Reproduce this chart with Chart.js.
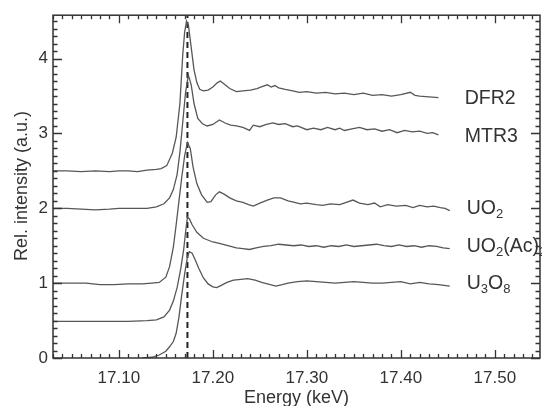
<!DOCTYPE html>
<html><head><meta charset="utf-8">
<script src="https://cdn.jsdelivr.net/npm/chart.js@4"></script>
<style>html,body{margin:0;padding:0;background:#fff}#wrap{width:542px;height:406px;position:relative}</style>
</head><body><div id="wrap"><canvas id="c" width="542" height="406"></canvas></div>
<script>
// ---- data ----
const xTicks = [17.10, 17.20, 17.30, 17.40, 17.50];
const yTicks = [0, 1, 2, 3, 4];
const xTitle = 'Energy (keV)';
const yTitle = 'Rel. intensity (a.u.)';
const edgeEnergy = 17.173;

const dfr2E = [17.030,17.045,17.060,17.075,17.090,17.100,17.110,17.120,17.130,17.140,17.145,17.151,17.157,17.161,17.165,17.168,17.170,17.172,17.174,17.177,17.180,17.183,17.186,17.190,17.195,17.200,17.205,17.208,17.212,17.218,17.225,17.232,17.240,17.247,17.253,17.258,17.262,17.266,17.270,17.277,17.285,17.292,17.300,17.310,17.320,17.330,17.340,17.350,17.360,17.370,17.380,17.390,17.400,17.410,17.415,17.420,17.430,17.440];
const dfr2I = [2.50,2.50,2.49,2.50,2.49,2.50,2.50,2.49,2.51,2.52,2.53,2.57,2.74,2.95,3.40,4.05,4.35,4.50,4.45,4.15,3.85,3.68,3.59,3.57,3.58,3.62,3.68,3.70,3.66,3.60,3.56,3.57,3.58,3.60,3.63,3.65,3.62,3.64,3.61,3.59,3.57,3.55,3.56,3.54,3.55,3.53,3.54,3.52,3.54,3.51,3.52,3.50,3.52,3.55,3.51,3.50,3.49,3.48];

const mtr3E = [17.030,17.045,17.060,17.075,17.090,17.100,17.115,17.130,17.140,17.148,17.154,17.158,17.162,17.165,17.168,17.171,17.174,17.177,17.180,17.184,17.189,17.194,17.200,17.207,17.213,17.219,17.225,17.232,17.239,17.243,17.250,17.257,17.264,17.270,17.277,17.285,17.290,17.300,17.307,17.315,17.322,17.330,17.335,17.340,17.348,17.356,17.364,17.372,17.380,17.388,17.396,17.404,17.412,17.420,17.428,17.434,17.440];
const mtr3I = [2.00,2.00,1.99,1.98,1.99,2.00,2.00,2.00,2.02,2.06,2.14,2.25,2.45,2.75,3.15,3.55,3.78,3.65,3.40,3.20,3.13,3.10,3.12,3.18,3.14,3.11,3.10,3.08,3.04,3.11,3.09,3.12,3.14,3.12,3.13,3.09,3.10,3.05,3.07,3.05,3.08,3.05,3.07,3.04,3.06,3.08,3.05,3.06,3.03,3.05,3.01,3.04,3.02,3.03,3.00,3.01,2.98];

const uo2E = [17.030,17.050,17.065,17.080,17.095,17.110,17.125,17.135,17.143,17.150,17.154,17.158,17.161,17.164,17.167,17.170,17.173,17.176,17.179,17.183,17.188,17.194,17.198,17.203,17.207,17.212,17.218,17.225,17.232,17.238,17.243,17.250,17.258,17.265,17.272,17.280,17.287,17.293,17.300,17.310,17.317,17.325,17.335,17.342,17.349,17.356,17.365,17.372,17.378,17.386,17.395,17.405,17.413,17.420,17.428,17.435,17.442,17.447,17.452];
const uo2I = [1.00,1.00,1.00,0.98,0.98,0.99,0.99,1.00,1.01,1.08,1.22,1.48,1.78,2.10,2.42,2.70,2.88,2.80,2.55,2.33,2.18,2.08,2.09,2.18,2.22,2.19,2.14,2.10,2.08,2.05,2.03,2.07,2.11,2.14,2.14,2.10,2.08,2.06,2.07,2.05,2.04,2.06,2.05,2.08,2.11,2.07,2.05,2.07,2.02,2.05,2.03,2.04,2.01,2.04,2.02,2.03,2.01,2.00,1.97];

const uo2acE = [17.030,17.060,17.090,17.110,17.130,17.140,17.148,17.154,17.158,17.162,17.166,17.169,17.171,17.173,17.175,17.178,17.183,17.190,17.196,17.200,17.207,17.213,17.219,17.225,17.232,17.239,17.246,17.254,17.262,17.270,17.278,17.286,17.294,17.302,17.310,17.318,17.326,17.334,17.342,17.350,17.358,17.366,17.374,17.382,17.390,17.398,17.406,17.414,17.422,17.430,17.438,17.445,17.452];
const uo2acI = [0.49,0.49,0.49,0.49,0.50,0.51,0.55,0.64,0.76,0.94,1.20,1.45,1.68,1.88,1.86,1.78,1.68,1.60,1.57,1.55,1.53,1.51,1.49,1.47,1.46,1.45,1.47,1.49,1.50,1.52,1.51,1.50,1.51,1.49,1.50,1.48,1.50,1.49,1.51,1.49,1.50,1.51,1.52,1.50,1.49,1.51,1.49,1.50,1.48,1.50,1.49,1.47,1.46];

const u3o8E = [17.125,17.135,17.143,17.150,17.154,17.158,17.161,17.164,17.167,17.170,17.173,17.175,17.178,17.181,17.185,17.190,17.195,17.200,17.204,17.209,17.215,17.222,17.230,17.237,17.245,17.252,17.258,17.267,17.274,17.280,17.290,17.300,17.310,17.320,17.330,17.340,17.350,17.360,17.370,17.380,17.390,17.400,17.410,17.420,17.430,17.440,17.452];
const u3o8I = [0.00,0.01,0.04,0.09,0.15,0.22,0.33,0.55,0.85,1.12,1.35,1.42,1.40,1.32,1.20,1.07,0.99,0.95,0.94,0.97,1.01,1.04,1.05,1.06,1.04,1.01,0.99,0.96,0.98,1.00,1.02,1.03,1.02,1.01,1.00,1.01,1.02,1.01,1.00,1.00,1.01,1.02,0.99,1.01,0.99,0.98,0.96];

// curve labels (parts: [text, isSubscript]) and anchor (energy, intensity of baseline)
const labelParts = [
  [['DFR2',0]],
  [['MTR3',0]],
  [['UO',0],['2',1]],
  [['UO',0],['2',1],['(Ac)',0],['2',1]],
  [['U',0],['3',1],['O',0],['8',1]]
];
const labelE = [17.468, 17.468, 17.470, 17.470, 17.470];
const labelI = [3.40, 2.88, 1.93, 1.42, 0.92];

// ---- chart ----
const pts = (E, I) => E.map((e, i) => ({x: e, y: I[i]}));
const lineColor = '#575757';
const mk = (E, I) => ({data: pts(E, I), showLine: true, borderColor: lineColor, borderWidth: 1.3, pointRadius: 0, tension: 0, fill: false});
const FONT = '"Liberation Sans", Arial, Helvetica, sans-serif';

const framePlugin = {
  id: 'frame',
  afterDraw(chart) {
    const ctx = chart.ctx, a = chart.chartArea;
    const xs = chart.scales.x, ys = chart.scales.y;
    ctx.save();
    ctx.strokeStyle = '#333';
    ctx.lineWidth = 1.5;
    ctx.strokeRect(a.left, a.top, a.right - a.left, a.bottom - a.top);
    ctx.lineWidth = 1.3;
    ctx.beginPath();
    // x minor/major ticks (bottom & top, inward)
    for (let k = 0; ; k++) {
      const v = 17.03 + k * 0.01;
      if (v > xs.max + 1e-9) break;
      const major = xTicks.some(t => Math.abs(t - v) < 1e-6);
      const L = major ? 8 : 4;
      const p = Math.round(xs.getPixelForValue(v)) + 0.5;
      ctx.moveTo(p, a.bottom); ctx.lineTo(p, a.bottom - L);
      ctx.moveTo(p, a.top); ctx.lineTo(p, a.top + L);
    }
    for (let k = 0; ; k++) {
      const v = k * 0.1;
      if (v > ys.max + 1e-9) break;
      const major = yTicks.some(t => Math.abs(t - v) < 1e-6);
      const L = major ? 9 : 4.5;
      const p = Math.round(ys.getPixelForValue(v)) + 0.5;
      ctx.moveTo(a.left, p); ctx.lineTo(a.left + L, p);
      ctx.moveTo(a.right, p); ctx.lineTo(a.right - L, p);
    }
    ctx.stroke();

    // titles
    ctx.fillStyle = '#333';
    ctx.font = '18px ' + FONT;
    ctx.textAlign = 'center';
    ctx.textBaseline = 'alphabetic';
    ctx.fillText(xTitle, (a.left + a.right) / 2, 403);
    ctx.save();
    ctx.translate(27, 186);
    ctx.rotate(-Math.PI / 2);
    ctx.fillText(yTitle, 0, 0);
    ctx.restore();

    // curve labels
    ctx.textAlign = 'left';
    labelParts.forEach((parts, i) => {
      let x = xs.getPixelForValue(labelE[i]);
      const y = ys.getPixelForValue(labelI[i]);
      parts.forEach(([t, sub]) => {
        ctx.font = (sub ? '13px ' : '19.5px ') + FONT;
        ctx.fillText(t, x, sub ? y + 4 : y);
        x += ctx.measureText(t).width;
      });
    });
    ctx.restore();
  }
};

new Chart(document.getElementById('c'), {
  type: 'scatter',
  data: {
    datasets: [
      mk(dfr2E, dfr2I), mk(mtr3E, mtr3I), mk(uo2E, uo2I), mk(uo2acE, uo2acI), mk(u3o8E, u3o8I),
      {data: [{x: edgeEnergy, y: 0}, {x: edgeEnergy, y: 4.58}], showLine: true, borderColor: '#222', borderWidth: 2, borderDash: [6, 4], pointRadius: 0}
    ]
  },
  options: {
    responsive: false,
    animation: false,
    devicePixelRatio: 1,
    layout: {padding: {top: 11, right: 2, left: 0, bottom: 0}},
    plugins: {legend: {display: false}, tooltip: {enabled: false}},
    scales: {
      x: {
        type: 'linear', min: 17.03, max: 17.548,
        grid: {display: false, drawTicks: false},
        border: {display: false},
        afterBuildTicks: s => { s.ticks = xTicks.map(v => ({value: v})); },
        afterFit: s => { s.height = 48; },
        ticks: {font: {size: 17, family: FONT}, color: '#333', padding: 10, maxRotation: 0, callback: v => Number(v).toFixed(2)}
      },
      y: {
        type: 'linear', min: 0, max: 4.58,
        grid: {display: false, drawTicks: false},
        border: {display: false},
        afterBuildTicks: s => { s.ticks = yTicks.map(v => ({value: v})); },
        afterFit: s => { s.width = 53; },
        ticks: {font: {size: 17, family: FONT}, color: '#333', padding: 5, callback: v => String(v)}
      }
    }
  },
  plugins: [framePlugin]
});
</script>
</body></html>
